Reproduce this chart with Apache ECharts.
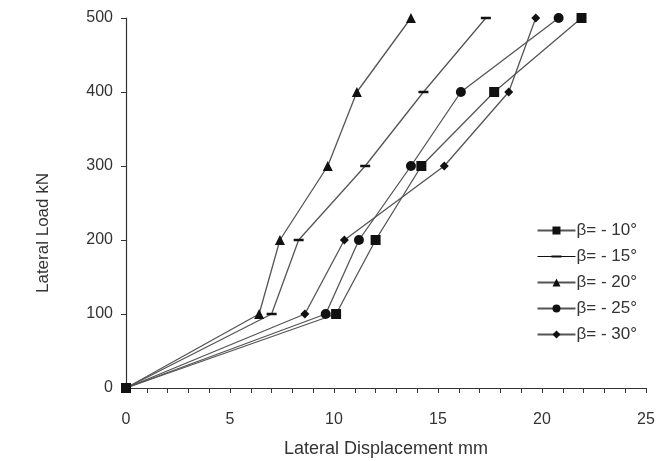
<!DOCTYPE html>
<html>
<head>
<meta charset="utf-8">
<script src="https://cdn.jsdelivr.net/npm/echarts@6/dist/echarts.min.js"></script>
<style>
  html, body { margin: 0; padding: 0; background: #fff; }
  #ChartDIV { width: 656px; height: 461px; }
</style>
</head>
<body>
<div id="ChartDIV"></div>
<script>
// load levels (kN) and displacement (mm)
var loads = [0, 100, 200, 300, 400, 500];
var disp10 = [0, 10.1, 12.0, 14.2, 17.7, 21.9];
var disp15 = [0, 7.0, 8.3, 11.5, 14.3, 17.3];
var disp20 = [0, 6.4, 7.4, 9.7, 11.1, 13.7];
var disp25 = [0, 9.6, 11.2, 13.7, 16.1, 20.8];
var disp30 = [0, 8.6, 10.5, 15.3, 18.4, 19.7];
var seriesNames = ['β= - 10°', 'β= - 15°', 'β= - 20°', 'β= - 25°', 'β= - 30°'];
var xTicks = [0, 5, 10, 15, 20, 25];

var myChart = echarts.init(document.getElementById('ChartDIV'));

function pairs(xs) {
    var res = [];
    for (var i = 0; i < xs.length; i++) {
        res.push([xs[i], loads[i]]);
    }
    return res;
}

function makeSeries(name, xs, symbol, size) {
    return {
        name: name,
        type: 'line',
        data: pairs(xs),
        symbol: symbol,
        symbolSize: size,
        showAllSymbol: true,
        lineStyle: { color: '#555', width: 1.3 },
        itemStyle: { color: '#111', borderWidth: 0 },
        emphasis: { disabled: true },
        z: 3
    };
}

//-- legend icon for the dash marker (plain line, a little thicker in the middle)
var dashIcon = 'path://M0,0 L0,0 M0,4.4 L38,4.4 L38,5.6 L0,5.6 Z M14,3.9 L24,3.9 L24,6.1 L14,6.1 Z M38,10 L38,10';

var option = {
    animation: false,
    textStyle: { fontFamily: 'Liberation Sans' },
    grid: { left: 126, right: 10, top: 18, bottom: 73, outerBoundsMode: 'none' },
    legend: {
        orient: 'vertical',
        right: 14,
        top: 217,
        itemWidth: 38,
        itemHeight: 10,
        itemGap: 9,
        data: [
            { name: seriesNames[0] },
            { name: seriesNames[1], icon: dashIcon },
            { name: seriesNames[2] },
            { name: seriesNames[3] },
            { name: seriesNames[4] }
        ],
        textStyle: { fontSize: 17, lineHeight: 16, color: '#333', fontFamily: 'Liberation Sans', padding: [0, 0, 0, -4] }
    },
    xAxis: {
        type: 'value',
        min: 0,
        max: 25,
        interval: 5,
        name: 'Lateral Displacement mm',
        nameLocation: 'middle',
        nameGap: 52,
        nameTextStyle: { fontSize: 18, color: '#333' },
        axisLine: { lineStyle: { color: '#333', width: 1.2 } },
        axisTick: { show: true, length: 5, lineStyle: { color: '#333' } },
        minorTick: { show: true, splitNumber: 5, length: 5, lineStyle: { color: '#333' } },
        axisLabel: {
            fontSize: 16, color: '#333', margin: 24,
            formatter: function (v) { return xTicks.indexOf(v) >= 0 ? String(v) : ''; }
        },
        splitLine: { show: false }
    },
    yAxis: {
        type: 'value',
        min: 0,
        max: 500,
        interval: 100,
        name: 'Lateral Load kN',
        nameLocation: 'middle',
        nameGap: 74,
        nameTextStyle: { fontSize: 17, color: '#333', padding: [0, 60, 0, 0] },
        axisLine: { show: true, lineStyle: { color: '#333', width: 1.2 } },
        axisTick: { show: true, length: 5, lineStyle: { color: '#333' } },
        axisLabel: { fontSize: 16, color: '#333', margin: 13 },
        splitLine: { show: false }
    },
    series: [
        makeSeries(seriesNames[0], disp10, 'rect', 10),
        makeSeries(seriesNames[1], disp15, 'rect', [10, 2.5]),
        makeSeries(seriesNames[2], disp20, 'triangle', 10),
        makeSeries(seriesNames[3], disp25, 'circle', 10),
        makeSeries(seriesNames[4], disp30, 'diamond', 9)
    ]
};

myChart.setOption(option);

window.addEventListener('resize', function () {
    myChart.resize();
});
</script>
</body>
</html>
